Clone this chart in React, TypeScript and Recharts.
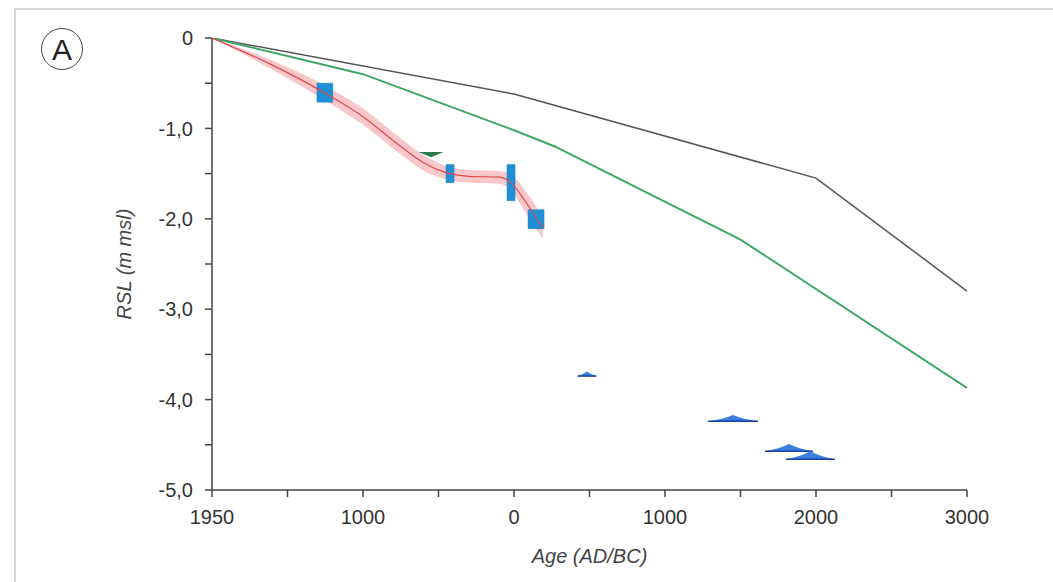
import { ComposedChart, Line, Area, XAxis, YAxis, ReferenceArea, Label } from 'recharts';

// x values are years AD (negative = BC); first tick is labelled 1950
const xTicks = [2000, 1500, 1000, 500, 0, -500, -1000, -1500, -2000, -2500, -3000];
const yTicks = [0, -0.5, -1, -1.5, -2, -2.5, -3, -3.5, -4, -4.5, -5];

const blackYears = [2000, 0, -2000, -3000];
const blackRsl = [0, -0.62, -1.55, -2.8];

const greenYears = [2000, 1000, 0, -270, -1500, -3000];
const greenRsl = [0, -0.4, -1.02, -1.2, -2.23, -3.87];

const redYears = [2000, 1600, 1250, 1000, 750, 600, 450, 300, 100, 20, -80, -190];
const redRsl = [0, -0.3, -0.61, -0.87, -1.2, -1.38, -1.49, -1.53, -1.54, -1.6, -1.82, -2.1];
const redErr = [0, 0.05, 0.08, 0.09, 0.09, 0.085, 0.075, 0.07, 0.07, 0.09, 0.12, 0.12];

// index points: [yearFrom, yearTo, rslTop, rslBottom]
const indexPoints = [
  [1305, 1200, -0.5, -0.71],
  [450, 397, -1.4, -1.6],
  [46, -7, -1.4, -1.8],
  [-93, -199, -1.9, -2.11],
];

// limiting points: [yearFrom, yearTo, rslPeak, rslBase]
const terrestrialLimit = [[632, 467, -1.26, -1.32]];
const marineLimits = [
  [-420, -546, -3.69, -3.74],
  [-1285, -1616, -4.17, -4.24],
  [-1662, -1980, -4.49, -4.57],
  [-1800, -2125, -4.57, -4.66],
];

const blackData = blackYears.map((x, i) => ({ x, rsl: blackRsl[i] }));
const greenData = greenYears.map((x, i) => ({ x, rsl: greenRsl[i] }));
const redData = redYears.map((x, i) => ({
  x,
  rsl: redRsl[i],
  band: [redRsl[i] - redErr[i], redRsl[i] + redErr[i]],
}));

const fmtX = (v: number) => {
  if (v % 1000 !== 0) return '';
  if (v === 2000) return '1950';
  return String(Math.abs(v));
};

const fmtY = (v: number) => {
  if (v === 0) return '0';
  if (v % 1 !== 0) return '';
  return v.toFixed(1).replace('.', ',');
};

const box = (props: any) => {
  const { x, y, width, height } = props;
  const w = Math.abs(width);
  const h = Math.abs(height);
  const left = width < 0 ? x + width : x;
  const top = height < 0 ? y + height : y;
  return { left, top, w, h };
};

const UpTriangle = (props: any) => {
  const { left, top, w, h } = box(props);
  const mid = left + w / 2;
  const base = top + h;
  return (
    <g>
      <path
        d={`M${left},${base} Q${mid - w * 0.2},${base - h * 0.35} ${mid},${top} Q${mid + w * 0.2},${base - h * 0.35} ${left + w},${base} Z`}
        fill={props.fill}
      />
      <line x1={left} y1={base} x2={left + w} y2={base} stroke="#1d3fa8" strokeWidth={1.5} />
    </g>
  );
};

const DownTriangle = (props: any) => {
  const { left, top, w, h } = box(props);
  return <path d={`M${left},${top} L${left + w},${top} L${left + w / 2},${top + h} Z`} fill={props.fill} />;
};

const FONT = 'Liberation Sans, Arial, sans-serif';
const axisFont = { fontFamily: FONT, fontSize: 20, fill: '#333' };

export default function App() {
  return (
    <div style={{ position: 'absolute', left: 0, top: 0, width: 1053, height: 582, background: '#fff', overflow: 'hidden' }}>
      <div
        style={{
          position: 'absolute',
          left: 14,
          top: 8,
          width: 1100,
          height: 600,
          borderTop: '2px solid #d6d6d6',
          borderLeft: '2px solid #d6d6d6',
        }}
      />
      <div
        style={{
          position: 'absolute',
          left: 41,
          top: 28,
          width: 40,
          height: 40,
          border: '1.2px solid #444',
          borderRadius: '50%',
          textAlign: 'center',
          lineHeight: '41px',
          fontFamily: FONT,
          fontSize: 30,
          color: '#222',
        }}
      >
        A
      </div>
      <ComposedChart
        width={1053}
        height={582}
        margin={{ top: 38, right: 86, left: 0, bottom: 0 }}
        style={{ position: 'absolute', left: 0, top: 0 }}
      >
        <XAxis
          dataKey="x"
          type="number"
          domain={[-3000, 2000]}
          reversed
          ticks={xTicks}
          tickFormatter={fmtX}
          interval={0}
          height={92}
          tickSize={7}
          tickMargin={13}
          fontSize={20}
          tick={axisFont}
          axisLine={{ stroke: '#444', strokeWidth: 1.5 }}
          tickLine={{ stroke: '#444', strokeWidth: 1.5 }}
          allowDataOverflow
        >
          <Label
            value="Age (AD/BC)"
            position="insideBottom"
            offset={19}
            style={{ fontFamily: FONT, fontSize: 20, fontStyle: 'italic', fill: '#444' }}
          />
        </XAxis>
        <YAxis
          type="number"
          domain={[-5, 0]}
          ticks={yTicks}
          tickFormatter={fmtY}
          interval={0}
          width={212}
          tickSize={7}
          tickMargin={12}
          fontSize={20}
          tick={axisFont}
          axisLine={{ stroke: '#444', strokeWidth: 1.5 }}
          tickLine={{ stroke: '#444', strokeWidth: 1.5 }}
          allowDataOverflow
        >
          <Label
            value="RSL (m msl)"
            angle={-90}
            position="insideLeft"
            offset={124}
            style={{
              fontFamily: FONT,
              fontSize: 20,
              fontStyle: 'italic',
              fill: '#444',
              textAnchor: 'middle',
            }}
          />
        </YAxis>

        <Line
          data={blackData}
          dataKey="rsl"
          type="linear"
          stroke="#555"
          strokeWidth={1.5}
          dot={false}
          isAnimationActive={false}
        />
        <Line
          data={greenData}
          dataKey="rsl"
          type="linear"
          stroke="#3fa766"
          strokeWidth={2}
          dot={false}
          isAnimationActive={false}
        />
        <Area
          data={redData}
          dataKey="band"
          type="monotone"
          stroke="none"
          fill="#f5b9bb"
          fillOpacity={0.8}
          isAnimationActive={false}
        />
        <Line
          data={redData}
          dataKey="rsl"
          type="monotone"
          stroke="#e0484c"
          strokeWidth={1.2}
          dot={false}
          isAnimationActive={false}
        />

        {indexPoints.map((p, i) => (
          <ReferenceArea
            key={`ip${i}`}
            x1={p[0]}
            x2={p[1]}
            y1={p[2]}
            y2={p[3]}
            fill="#1f8fd6"
            fillOpacity={1}
            stroke="#1a7cc0"
            strokeWidth={0.5}
          />
        ))}
        {terrestrialLimit.map((p, i) => (
          <ReferenceArea
            key={`tl${i}`}
            x1={p[0]}
            x2={p[1]}
            y1={p[2]}
            y2={p[3]}
            fill="#2b7a4b"
            fillOpacity={1}
            shape={<DownTriangle />}
          />
        ))}
        {marineLimits.map((p, i) => (
          <ReferenceArea
            key={`ml${i}`}
            x1={p[0]}
            x2={p[1]}
            y1={p[2]}
            y2={p[3]}
            fill="#3a7fe0"
            fillOpacity={1}
            shape={<UpTriangle />}
          />
        ))}
      </ComposedChart>
    </div>
  );
}
